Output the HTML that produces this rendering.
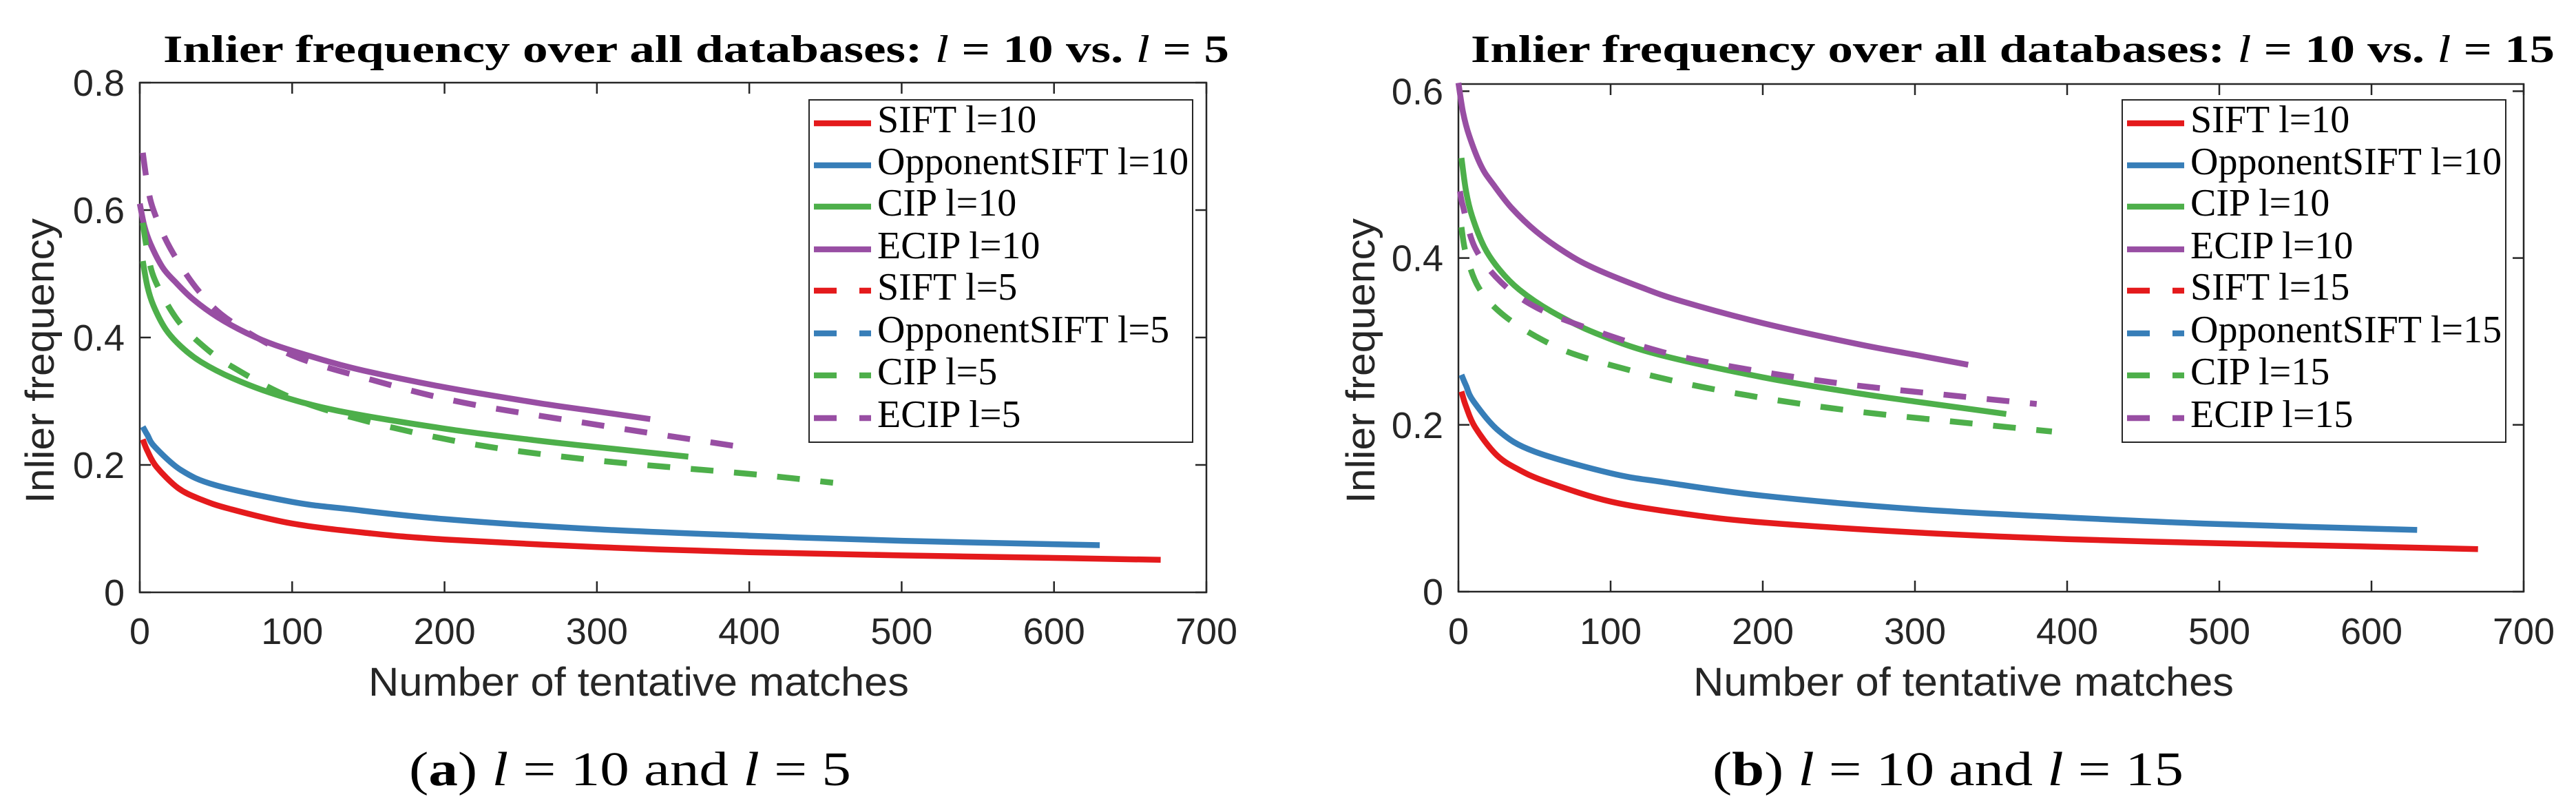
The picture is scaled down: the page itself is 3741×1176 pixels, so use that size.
<!DOCTYPE html>
<html><head><meta charset="utf-8"><style>
html,body{margin:0;padding:0;background:#fff;}
svg{display:block;}
</style></head><body>
<svg id="fig" width="3741" height="1176" viewBox="0 0 3741 1176" xmlns="http://www.w3.org/2000/svg"></svg>
<script>
// ---------- data ----------
const xTicks = [0,100,200,300,400,500,600,700];
const yTicksA = [0,0.2,0.4,0.6,0.8];
const yTicksB = [0,0.2,0.4,0.6];
const yTickLabelsA = ["0","0.2","0.4","0.6","0.8"];
const yTickLabelsB = ["0","0.2","0.4","0.6"];

const siftX = [2,5,11,25,40,59,100,150,200,300,400,500,600,670];
const siftY = [0.24,0.222,0.197,0.164,0.146,0.131,0.108,0.093,0.083,0.071,0.063,0.058,0.054,0.051];
const oppX = [2,5,10,27,50,100,136,200,300,400,500,630];
const oppY = [0.26,0.247,0.228,0.192,0.168,0.142,0.131,0.115,0.099,0.089,0.081,0.074];
const cipX = [2,5,9,17,27,40,61,90,130,200,262,300,360];
const cipY = [0.52,0.48,0.45,0.413,0.386,0.362,0.336,0.31,0.285,0.257,0.238,0.228,0.213];
const ecipX = [0,3,7,15,23,35,51,70,89,120,147,200,262,300,335];
const ecipY = [0.61,0.575,0.547,0.51,0.488,0.46,0.432,0.407,0.388,0.365,0.348,0.322,0.297,0.284,0.272];
const cip5X = [2,5,10,24,40,60,100,150,220,300,400,455];
const cip5Y = [0.58,0.535,0.49,0.43,0.39,0.355,0.305,0.268,0.232,0.207,0.186,0.172];
const ecip5X = [2,5,9,20,39,60,100,150,212,300,390];
const ecip5Y = [0.69,0.64,0.6,0.54,0.472,0.425,0.372,0.335,0.298,0.263,0.23];
const cip15X = [2,5,13.5,30,56,84,143,201,262,330,390];
const cip15Y = [0.437,0.405,0.364,0.331,0.301,0.28,0.252,0.232,0.216,0.203,0.192];
const ecip15X = [1,3,11,28,52,88,139,198,258,320,380];
const ecip15Y = [0.48,0.462,0.412,0.371,0.34,0.314,0.285,0.264,0.248,0.236,0.225];
const emptyX = [];
const emptyY = [];

const colors = {red:"#e41a1c",blue:"#377eb8",green:"#4daf4a",purple:"#984ea3"};

const NS = "http://www.w3.org/2000/svg";
const svg = document.getElementById("fig");
function mk(tag, attrs, parent){
  const e = document.createElementNS(NS, tag);
  for (const k in attrs) e.setAttribute(k, attrs[k]);
  (parent||svg).appendChild(e);
  return e;
}
function smoothPath(pts){
  if (pts.length < 2) return "";
  let d = "M" + pts[0][0].toFixed(1) + "," + pts[0][1].toFixed(1);
  for (let i=0;i<pts.length-1;i++){
    const p0 = pts[i-1]||pts[i], p1=pts[i], p2=pts[i+1], p3=pts[i+2]||pts[i+1];
    const c1x = p1[0]+(p2[0]-p0[0])/6, c1y = p1[1]+(p2[1]-p0[1])/6;
    const c2x = p2[0]-(p3[0]-p1[0])/6, c2y = p2[1]-(p3[1]-p1[1])/6;
    d += " C"+c1x.toFixed(1)+","+c1y.toFixed(1)+" "+c2x.toFixed(1)+","+c2y.toFixed(1)+" "+p2[0].toFixed(1)+","+p2[1].toFixed(1);
  }
  return d;
}

function drawPanel(cfg){
  const g = mk("g", {});
  
  
  const sx = v => cfg.x0 + (v/700)*(cfg.x1-cfg.x0);
  const sy = v => cfg.yb - (v/cfg.ymax)*(cfg.yb-cfg.yt);

  const t = mk("text", {x:(cfg.tL+cfg.tR)/2, y:90, "text-anchor":"middle", "font-family":"Liberation Serif, serif", "font-size":56, "font-weight":"bold", textLength:cfg.tR-cfg.tL, lengthAdjust:"spacingAndGlyphs"}, g);
  
  
  t.innerHTML = cfg.title;

  const box = mk("rect", {x:cfg.x0, y:cfg.yt, width:cfg.x1-cfg.x0, height:cfg.yb-cfg.yt, fill:"none", stroke:"#262626", "stroke-width":2.5}, g);
  
  

  xTicks.forEach(v=>{
    const X = sx(v);
    mk("line",{x1:X,x2:X,y1:cfg.yb,y2:cfg.yb-16,stroke:"#262626","stroke-width":2.5},g);
    mk("line",{x1:X,x2:X,y1:cfg.yt,y2:cfg.yt+16,stroke:"#262626","stroke-width":2.5},g);
    const tl = mk("text",{x:X,y:935,"text-anchor":"middle","font-family":"Liberation Sans, sans-serif","font-size":54,fill:"#262626"},g);
    
    
    tl.textContent = String(v);
  });
  cfg.yTicks.forEach((v,i)=>{
    const Y = sy(v);
    mk("line",{x1:cfg.x0,x2:cfg.x0+16,y1:Y,y2:Y,stroke:"#262626","stroke-width":2.5},g);
    mk("line",{x1:cfg.x1,x2:cfg.x1-16,y1:Y,y2:Y,stroke:"#262626","stroke-width":2.5},g);
    const tl = mk("text",{x:cfg.x0-22,y:Y+19,"text-anchor":"end","font-family":"Liberation Sans, sans-serif","font-size":54,fill:"#262626"},g);
    
    
    tl.textContent = cfg.yLabels[i];
  });
  const xt = mk("text",{x:(cfg.x0+cfg.x1)/2 + cfg.xtShift,y:1010,"text-anchor":"middle","font-family":"Liberation Sans, sans-serif","font-size":58,fill:"#262626",textLength:785,lengthAdjust:"spacingAndGlyphs"},g);
  
  
  xt.textContent = "Number of tentative matches";
  const yt = mk("text",{x:0,y:0,transform:"translate("+cfg.ytX+",524) rotate(-90)","text-anchor":"middle","font-family":"Liberation Sans, sans-serif","font-size":58,fill:"#262626",textLength:414,lengthAdjust:"spacingAndGlyphs"},g);
  
  
  yt.textContent = "Inlier frequency";

  cfg.series.forEach(s=>{
    const pts = s.x.map((v,i)=>[sx(v), sy(s.y[i])]);
    if (pts.length>1){
      const p = mk("path",{d:smoothPath(pts),fill:"none",stroke:s.c,"stroke-width":8.5,"stroke-linejoin":"round","stroke-dasharray":s.dash?"33 30":"none"},g);
      
      
    }
  });

  const lg = mk("g",{},g);
  
  
  mk("rect",{x:cfg.lx,y:145,width:557,height:497,fill:"#fff",stroke:"#262626","stroke-width":2},lg);
  const rowsY = [192,253,313,375,435,497,558,620];
  cfg.series.forEach((s,i)=>{
    const by = rowsY[i];
    const ly = by-13;
    if (s.dash){
      mk("line",{x1:cfg.lx+7,x2:cfg.lx+40,y1:ly,y2:ly,stroke:s.c,"stroke-width":8.5},lg);
      mk("line",{x1:cfg.lx+73,x2:cfg.lx+90,y1:ly,y2:ly,stroke:s.c,"stroke-width":8.5},lg);
    } else {
      mk("line",{x1:cfg.lx+7,x2:cfg.lx+90,y1:ly,y2:ly,stroke:s.c,"stroke-width":8.5},lg);
    }
    const tx = mk("text",{x:cfg.lx+99,y:by,"font-family":"Liberation Serif, serif","font-size":56,fill:"#000"},lg);
    
    
    tx.textContent = s.label;
  });

  const cap = mk("text",{x:(cfg.cL+cfg.cR)/2,y:1140,"text-anchor":"middle","font-family":"Liberation Serif, serif","font-size":70,fill:"#000",textLength:cfg.cR-cfg.cL,lengthAdjust:"spacingAndGlyphs"},g);
  
  
  cap.innerHTML = cfg.caption;
}

drawPanel({
  name:"chart-a", x0:203, x1:1752, yt:120, yb:860, ymax:0.8,
  yTicks:yTicksA, yLabels:yTickLabelsA,
  tL:237, tR:1785, title:'Inlier frequency over all databases: <tspan font-style="italic" font-weight="normal">l</tspan> = 10 vs. <tspan font-style="italic" font-weight="normal">l</tspan> = 5',
  xtShift:-50, ytX:78, lx:1175,
  cL:594, cR:1236, caption:'(<tspan font-weight="bold">a</tspan>) <tspan font-style="italic">l</tspan> = 10 and <tspan font-style="italic">l</tspan> = 5',
  series:[
    {id:"sift-l10",label:"SIFT l=10",x:siftX,y:siftY,c:colors.red,dash:false},
    {id:"opponentsift-l10",label:"OpponentSIFT l=10",x:oppX,y:oppY,c:colors.blue,dash:false},
    {id:"cip-l10",label:"CIP l=10",x:cipX,y:cipY,c:colors.green,dash:false},
    {id:"ecip-l10",label:"ECIP l=10",x:ecipX,y:ecipY,c:colors.purple,dash:false},
    {id:"sift-l5",label:"SIFT l=5",x:emptyX,y:emptyY,c:colors.red,dash:true},
    {id:"opponentsift-l5",label:"OpponentSIFT l=5",x:emptyX,y:emptyY,c:colors.blue,dash:true},
    {id:"cip-l5",label:"CIP l=5",x:cip5X,y:cip5Y,c:colors.green,dash:true},
    {id:"ecip-l5",label:"ECIP l=5",x:ecip5X,y:ecip5Y,c:colors.purple,dash:true}
  ]
});

drawPanel({
  name:"chart-b", x0:2118, x1:3665, yt:122, yb:859, ymax:0.6086,
  yTicks:yTicksB, yLabels:yTickLabelsB,
  tL:2136, tR:3710, title:'Inlier frequency over all databases: <tspan font-style="italic" font-weight="normal">l</tspan> = 10 vs. <tspan font-style="italic" font-weight="normal">l</tspan> = 15',
  xtShift:-40, ytX:1996, lx:3082,
  cL:2487, cR:3171, caption:'(<tspan font-weight="bold">b</tspan>) <tspan font-style="italic">l</tspan> = 10 and <tspan font-style="italic">l</tspan> = 15',
  series:[
    {id:"sift-l10",label:"SIFT l=10",x:siftX,y:siftY,c:colors.red,dash:false},
    {id:"opponentsift-l10",label:"OpponentSIFT l=10",x:oppX,y:oppY,c:colors.blue,dash:false},
    {id:"cip-l10",label:"CIP l=10",x:cipX,y:cipY,c:colors.green,dash:false},
    {id:"ecip-l10",label:"ECIP l=10",x:ecipX,y:ecipY,c:colors.purple,dash:false},
    {id:"sift-l15",label:"SIFT l=15",x:emptyX,y:emptyY,c:colors.red,dash:true},
    {id:"opponentsift-l15",label:"OpponentSIFT l=15",x:emptyX,y:emptyY,c:colors.blue,dash:true},
    {id:"cip-l15",label:"CIP l=15",x:cip15X,y:cip15Y,c:colors.green,dash:true},
    {id:"ecip-l15",label:"ECIP l=15",x:ecip15X,y:ecip15Y,c:colors.purple,dash:true}
  ]
});
</script>
</body></html>
